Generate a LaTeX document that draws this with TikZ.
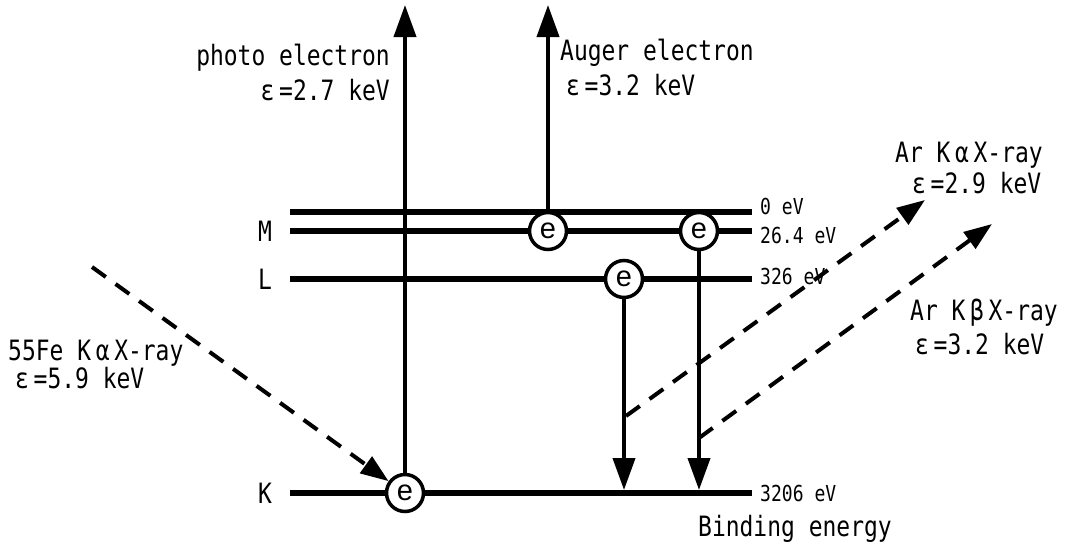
\documentclass[tikz,border=0pt]{standalone}
\usepackage{fontspec}
\setmainfont{DejaVu Sans Mono}[FakeStretch=0.82]
\newfontfamily\elfont{Liberation Sans}
\usetikzlibrary{arrows.meta,calc}

\begin{document}
\begin{tikzpicture}[x=1pt, y=-1pt, >={Triangle[length=32pt,width=22pt]}, font=\fontsize{28}{30}\selectfont,
		level/.style={line width=6.5pt},
		elec/.style={circle, draw, line width=3.5pt, fill=white, minimum size=37pt, inner sep=0pt, font=\elfont\fontsize{29}{29}\selectfont},
		trans/.style={line width=4pt, ->},
		xray/.style={line width=4pt, dash pattern=on 17pt off 12pt, -{Triangle[length=28pt,width=20pt]}},
		evlab/.style={anchor=west, inner sep=0pt, font=\fontsize{22}{24}\selectfont},
		txt/.style={inner sep=0pt}]
		\useasboundingbox (0,0) rectangle (1071,547);
		% energy levels
		\foreach \n/\y/\ly/\ev in {z/212/206/0 eV, m/231/235/26.4 eV, l/279/276/326 eV, k/493/493/3206 eV} {
			\coordinate (\n-l) at (290,\y);
			\coordinate (\n-r) at (752,\y);
			\draw[level] (\n-l) -- (\n-r);
			\node[evlab] (\n-ev) at (760,\ly) {\ev};
		}
		\node (m-name) at (265,231) {M};
		\node (l-name) at (265,279) {L};
		\node (k-name) at (265,493) {K};
		\node[txt, anchor=base west] (bind) at (698,536) {Binding energy};
		% electrons
		\node[elec] (eK) at (405,493) {e};
		\node[elec] (eM1) at (548,231) {e};
		\node[elec] (eM2) at (699,231) {e};
		\node[elec] (eL) at (624,279) {e};
		% emitted electrons
		\coordinate (photo) at (405,5);
		\coordinate (auger) at (548,5);
		\draw[trans] (eK) -- (photo);
		\draw[trans] (eM1) -- (auger);
		\node[txt, anchor=base east] (photo-lab) at (390,65) {photo electron};
		\node[txt, anchor=base east] (photo-en) at (390,100) {ε\,=2.7 keV};
		\node[txt, anchor=base west] (auger-lab) at (560,60) {Auger electron};
		\node[txt, anchor=base west] (auger-en) at (566,95) {ε\,=3.2 keV};
		% transitions to K
		\draw[trans, shorten >=3pt] (eL) -- (eL |- k-r);
		\draw[trans, shorten >=3pt] (eM2) -- (eM2 |- k-r);
		% x-rays
		\coordinate (fe) at (92,267);
		\coordinate (ka-s) at (626,416);
		\coordinate (ka-e) at (925,200);
		\coordinate (kb-s) at (699,438);
		\coordinate (kb-e) at (992,224);
		\draw[xray] (fe) -- (eK);
		\draw[xray] (ka-s) -- (ka-e);
		\draw[xray] (kb-s) -- (kb-e);
		\node[txt, anchor=base west] (fe-lab) at (8,360) {55Fe K\,α\,X-ray};
		\node[txt, anchor=base west] (fe-en) at (15,388) {ε\,=5.9 keV};
		\node[txt, anchor=base west] (ka-lab) at (895,162) {Ar K\,α\,X-ray};
		\node[txt, anchor=base west] (ka-en) at (912,193) {ε\,=2.9 keV};
		\node[txt, anchor=base west] (kb-lab) at (910,320) {Ar K\,β\,X-ray};
		\node[txt, anchor=base west] (kb-en) at (915,354) {ε\,=3.2 keV};
	\end{tikzpicture}
\end{document}
